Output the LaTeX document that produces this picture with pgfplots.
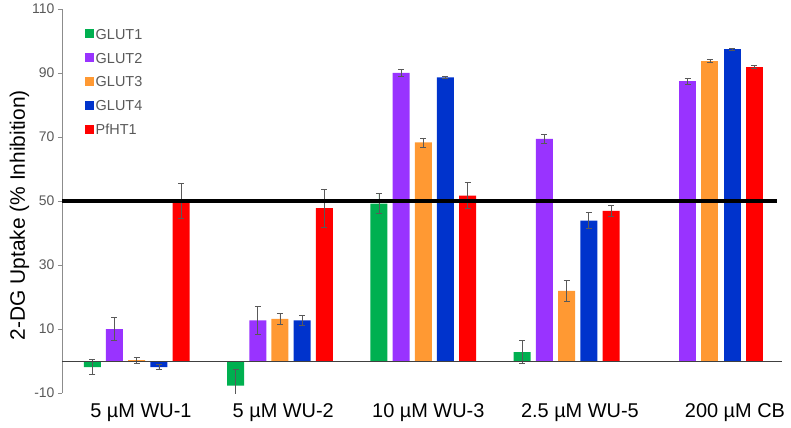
\documentclass[border=0pt]{standalone}
\usepackage{fontspec}
\setmainfont{Liberation Sans}
\usepackage{pgfplots}
\usepackage{pgfplotstable}
\pgfplotsset{compat=1.18}
\definecolor{cGa}{HTML}{00B050}
\definecolor{cGb}{HTML}{9933FF}
\definecolor{cGc}{HTML}{FF9933}
\definecolor{cGd}{HTML}{0033CC}
\definecolor{cPf}{HTML}{FF0000}
\definecolor{tgray}{HTML}{595959}
\definecolor{agray}{HTML}{8C8C8C}
\pgfplotstableread{
x g1 g1e g2 g2e g3 g3e g4 g4e pf pfe
0 -1.9 2.4 10.0 3.5 0.3 0.9 -1.9 0.7 50.0 5.4
1 -7.7 5.0 12.7 4.3 13.2 1.6 12.7 1.6 47.8 5.9
2 49.2 3.1 90.0 1.2 68.3 1.4 88.6 0.3 51.7 4.1
3 2.8 3.5 69.4 1.3 21.9 3.4 43.9 2.5 46.9 1.7
}\dataA
\pgfplotstableread{
x g2 g2e g3 g3e g4 g4e pf pfe
4 87.5 0.9 93.8 0.4 97.5 0.3 92.0 0.4
}\dataB
\begin{document}
\begin{tikzpicture}
\begin{axis}[
  scale only axis, width=720bp, height=384bp,
  xmin=-0.521, xmax=4.503, ymin=-10, ymax=110,
  ybar=5.2bp, bar width=17bp,
  legend image code/.code={\fill[#1,draw=none] (0bp,-4.5bp) rectangle (9bp,4.5bp);},
  axis y line*=left, axis x line*=bottom,
  x axis line style={draw=none},
  y axis line style={draw=agray, line width=0.7bp},
  ytick={-10,10,...,110},
  ytick style={draw=agray, line width=0.7bp},
  tick align=outside, major tick length=4bp,
  xtick={0.03,1.023,2.035,3.093,4.175},
  xticklabels={5 µM WU-1, 5 µM WU-2, 10 µM WU-3, 2.5 µM WU-5, 200 µM CB},
  xtick style={draw=none},
  x tick label style={font=\fontsize{20}{24}\selectfont, text=black, yshift=-3bp},
  y tick label style={font=\fontsize{14}{17}\selectfont, text=tgray},
  /pgf/number format/assume math mode=true,
  ylabel={2-DG Uptake (\% Inhibition)},
  ylabel style={font=\fontsize{21}{25}\selectfont, at={(axis description cs:-0.059,0.463)}, anchor=center},
  legend style={at={(axis description cs:0.032,0.953)}, anchor=north west, draw=none, fill=none,
    inner sep=0pt, row sep=10.3bp, font=\fontsize{14.5}{17}\selectfont, text=tgray,
    nodes={inner sep=1.5bp, text height=10.5bp, text depth=0bp}},
  legend cell align=left,
  error bars/y dir=both, error bars/y explicit,
  error bars/error bar style={draw=tgray, line width=0.7bp},
  error bars/error mark options={rotate=90, mark size=3bp, draw=tgray, line width=0.7bp},
]
\addplot[fill=cGa, draw=none] table[x=x, y=g1, y error=g1e] {\dataA};
\addplot[fill=cGb, draw=none] table[x=x, y=g2, y error=g2e] {\dataA};
\addplot[fill=cGc, draw=none] table[x=x, y=g3, y error=g3e] {\dataA};
\addplot[fill=cGd, draw=none] table[x=x, y=g4, y error=g4e] {\dataA};
\addplot[fill=cPf, draw=none] table[x=x, y=pf, y error=pfe] {\dataA};
\legend{GLUT1,GLUT2,GLUT3,GLUT4,PfHT1}
\addplot[fill=cGb, draw=none, forget plot, bar shift=-22.2bp] table[x=x, y=g2, y error=g2e] {\dataB};
\addplot[fill=cGc, draw=none, forget plot, bar shift=0bp] table[x=x, y=g3, y error=g3e] {\dataB};
\addplot[fill=cGd, draw=none, forget plot, bar shift=22.2bp] table[x=x, y=g4, y error=g4e] {\dataB};
\addplot[fill=cPf, draw=none, forget plot, bar shift=44.4bp] table[x=x, y=pf, y error=pfe] {\dataB};
\draw[draw=black!75, line width=0.9bp] (axis cs:-0.521,0) -- (axis cs:4.503,0);
\draw[draw=black, line width=3.6bp] (axis cs:-0.521,50) -- (axis cs:4.468,50);
\end{axis}
\pgfresetboundingbox
\path[use as bounding box] (-62bp,-35bp) rectangle (729bp,393bp);
\end{tikzpicture}
\end{document}
